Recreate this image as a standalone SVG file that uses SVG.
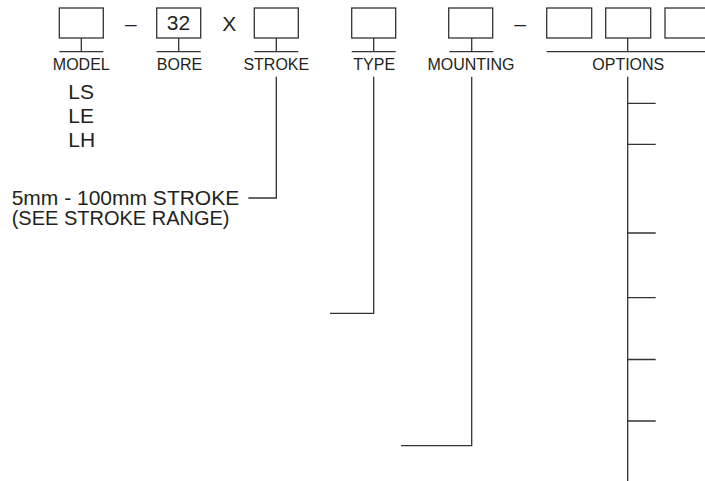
<svg xmlns="http://www.w3.org/2000/svg" width="705" height="481" viewBox="0 0 705 481">
<style>
.box{fill:#fff;stroke:#333;stroke-width:1.3}
.ln{fill:none;stroke:#333;stroke-width:1.3}
.lbl{font-family:"Liberation Sans",Arial,sans-serif;font-size:16px;fill:#231f20;text-anchor:middle}
.big{font-family:"Liberation Sans",Arial,sans-serif;font-size:21px;fill:#231f20}
</style>
<rect width="705" height="481" fill="#fff"/>
<g id="sep">
<text class="big" x="125" y="30.7">–</text>
<text class="big" x="222.3" y="30.7">X</text>
<text class="big" x="514.3" y="30.7">–</text>
</g>
<g id="model">
<rect class="box" x="59.3" y="8" width="44" height="30"/>
<path class="ln" d="M81.3 38V51.7M59.3 51.7H103.3"/>
<text class="lbl" x="81.3" y="69.5">MODEL</text>
<text class="big" x="68.3" y="99">LS</text>
<text class="big" x="68.3" y="122.7">LE</text>
<text class="big" x="68.3" y="146.5">LH</text>
</g>
<g id="bore">
<rect class="box" x="156.7" y="8" width="44" height="30"/>
<path class="ln" d="M178.7 38V51.7M156.7 51.7H200.7"/>
<text class="big" x="178.5" y="30.2" text-anchor="middle">32</text>
<text class="lbl" x="179.5" y="69.5">BORE</text>
</g>
<g id="stroke">
<rect class="box" x="254.3" y="8" width="44" height="30"/>
<path class="ln" d="M276.3 38V51.7M254.3 51.7H298.3"/>
<text class="lbl" x="276.3" y="69.5">STROKE</text>
<text class="big" x="11.7" y="205">5mm - 100mm STROKE</text>
<text class="big" x="11.7" y="224.5" style="font-size:20px">(SEE STROKE RANGE)</text>
</g>
<g id="type">
<rect class="box" x="351.7" y="8" width="44" height="30"/>
<path class="ln" d="M373.7 38V51.7M351.7 51.7H395.7"/>
<text class="lbl" x="374.2" y="69.5">TYPE</text>
</g>
<g id="mounting">
<rect class="box" x="448.7" y="8" width="44" height="30"/>
<path class="ln" d="M471.7 38V51.7M449.3 51.7H493.3"/>
<text class="lbl" x="471" y="69.5">MOUNTING</text>
</g>
<g id="options">
<rect class="box" x="546.7" y="8" width="45" height="30"/>
<rect class="box" x="605.7" y="8" width="45" height="30"/>
<rect class="box" x="665" y="8" width="45" height="30"/>
<path class="ln" d="M627.7 38V51.7M546.7 51.7H705"/>
<text class="lbl" x="628.3" y="69.5">OPTIONS</text>
</g>
<g id="connectors">
<path class="ln" d="M276.3 76.7V198H248.3"/>
<path class="ln" d="M373.7 76.7V313.3H330"/>
<path class="ln" d="M471.7 76.7V445.7H401"/>
<path class="ln" d="M627.7 76.7V481"/>
<path class="ln" d="M627.7 103.3H655.7M627.7 144.3H655.7M627.7 233H655.7M627.7 297.7H655.7M627.7 359.5H655.7M627.7 421H655.7"/>
</g>
</svg>
